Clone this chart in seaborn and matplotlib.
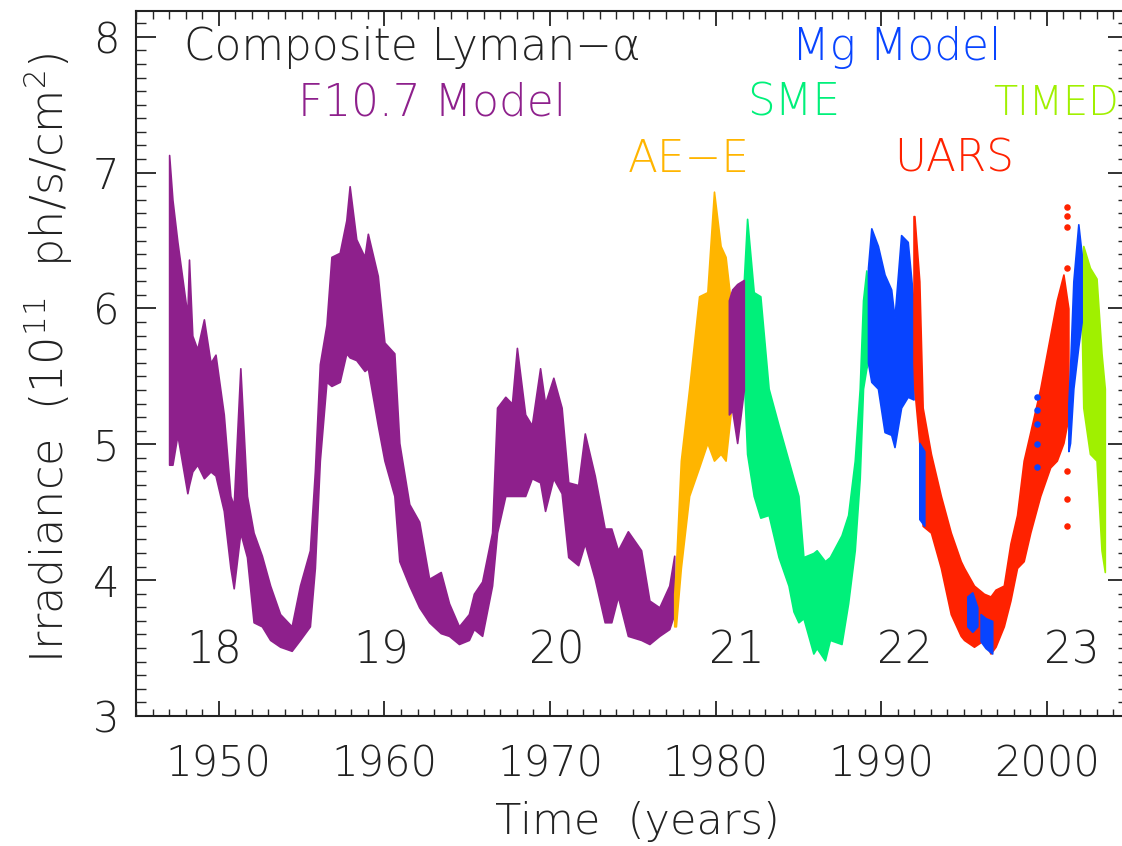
import numpy as np
import pandas as pd
import matplotlib
matplotlib.use("Agg")
import matplotlib.pyplot as plt
from matplotlib import font_manager
from matplotlib.ticker import MultipleLocator
import seaborn as sns

# ---------------- data ----------------
# F10.7 model, segment 1
f107_t = [1947.0, 1947.2, 1947.5, 1948.1, 1948.2, 1948.4, 1948.7, 1949.1, 1949.5, 1949.8,
          1950.3, 1950.7, 1950.9, 1951.3, 1951.7, 1952.1, 1952.6, 1953.1, 1953.7, 1954.4,
          1954.9, 1955.5, 1955.8, 1956.1, 1956.5, 1956.8, 1957.3, 1957.7, 1957.9, 1958.3,
          1958.8, 1959.0, 1959.6, 1960.0, 1960.6, 1960.9, 1961.5, 1962.1, 1962.7, 1963.4,
          1963.9, 1964.5, 1965.1, 1965.4, 1965.9, 1966.5, 1966.8, 1967.3, 1967.7, 1968.0,
          1968.5, 1968.9, 1969.4, 1969.7, 1970.2, 1970.7, 1971.1, 1971.7, 1972.1, 1972.7,
          1973.3, 1973.7, 1974.1, 1974.7, 1975.5, 1976.0, 1976.6, 1977.2, 1977.5]
f107_hi = [7.13, 6.80, 6.49, 5.95, 6.36, 5.80, 5.70, 5.92, 5.60, 5.66,
           5.22, 4.62, 4.55, 5.56, 4.62, 4.35, 4.18, 3.96, 3.75, 3.66,
           3.96, 4.22, 4.80, 5.59, 5.88, 6.38, 6.41, 6.65, 6.90, 6.51,
           6.38, 6.55, 6.24, 5.75, 5.67, 5.01, 4.56, 4.43, 4.01, 4.06,
           3.83, 3.66, 3.75, 3.90, 3.99, 4.35, 5.27, 5.35, 5.30, 5.71,
           5.22, 5.14, 5.56, 5.30, 5.49, 5.27, 4.72, 4.70, 5.08, 4.77,
           4.38, 4.38, 4.22, 4.36, 4.22, 3.85, 3.80, 3.96, 4.18]
f107_lo = [4.85, 4.85, 5.07, 4.64, 4.70, 4.80, 4.85, 4.75, 4.80, 4.77,
           4.51, 4.09, 3.94, 4.35, 4.17, 3.69, 3.66, 3.56, 3.51, 3.48,
           3.56, 3.66, 4.09, 4.88, 5.46, 5.43, 5.46, 5.67, 5.64, 5.62,
           5.54, 5.56, 5.14, 4.88, 4.62, 4.14, 3.96, 3.80, 3.69, 3.61,
           3.59, 3.53, 3.56, 3.64, 3.59, 3.96, 4.35, 4.62, 4.62, 4.62,
           4.62, 4.75, 4.72, 4.51, 4.75, 4.64, 4.17, 4.11, 4.27, 4.01,
           3.69, 3.69, 3.88, 3.59, 3.56, 3.53, 3.59, 3.64, 3.75]
# F10.7 model, segment 2
f107b_t = [1980.8, 1981.0, 1981.3, 1981.7]
f107b_hi = [6.06, 6.14, 6.18, 6.21]
f107b_lo = [5.22, 5.25, 5.01, 5.40]

# AE-E
aee_t = [1977.5, 1977.6, 1977.9, 1978.4, 1979.0, 1979.5, 1979.9, 1980.3, 1980.6, 1980.9]
aee_hi = [3.90, 4.09, 4.88, 5.41, 6.09, 6.12, 6.86, 6.46, 6.38, 6.06]
aee_lo = [3.66, 3.66, 4.09, 4.62, 4.83, 5.01, 4.88, 4.93, 4.88, 5.22]

# SME
sme_t = [1981.7, 1981.9, 1982.3, 1982.7, 1983.2, 1983.8, 1984.4, 1984.7, 1985.0, 1985.3,
         1985.9, 1986.1, 1986.6, 1986.9, 1987.6, 1988.0, 1988.4, 1988.7, 1988.9, 1989.1, 1989.2]
sme_hi = [6.20, 6.66, 6.12, 6.09, 5.41, 5.14, 4.88, 4.75, 4.62, 4.17,
          4.20, 4.22, 4.14, 4.17, 4.33, 4.48, 4.88, 5.41, 6.06, 6.28, 6.10]
sme_lo = [5.50, 4.93, 4.62, 4.46, 4.48, 4.17, 3.96, 3.77, 3.69, 3.72,
          3.46, 3.50, 3.41, 3.56, 3.53, 3.83, 4.22, 4.75, 5.41, 5.56, 5.60]

# Mg model segments
mg1_t = [1989.2, 1989.4, 1989.8, 1990.2, 1990.6, 1990.8, 1991.2, 1991.6, 1991.95]
mg1_hi = [6.30, 6.59, 6.46, 6.25, 6.14, 5.93, 6.54, 6.49, 6.04]
mg1_lo = [5.60, 5.46, 5.41, 5.09, 5.07, 4.98, 5.27, 5.35, 5.33]
mg2_t = [1992.3, 1992.6]
mg2_hi = [5.01, 4.95]
mg2_lo = [4.45, 4.40]
mg3_t = [1995.2, 1995.5, 1995.8]
mg3_hi = [3.88, 3.91, 3.80]
mg3_lo = [3.66, 3.62, 3.66]
mg4_t = [1996.0, 1996.3, 1996.7]
mg4_hi = [3.75, 3.72, 3.70]
mg4_lo = [3.55, 3.50, 3.46]
mg5_t = [2001.3, 2001.4, 2001.6, 2001.9, 2002.1]
mg5_hi = [5.30, 5.56, 6.20, 6.62, 6.40]
mg5_lo = [4.95, 5.01, 5.41, 5.72, 5.90]
mg_dot_t = [1999.4, 1999.4, 1999.4, 1999.4, 1999.4]
mg_dot_v = [5.35, 5.25, 5.15, 5.00, 4.83]

# UARS
uars_t = [1991.95, 1992.0, 1992.3, 1992.5, 1993.0, 1993.6, 1994.2, 1994.8, 1995.0, 1995.6,
          1996.2, 1996.6, 1996.9, 1997.4, 1997.8, 1998.2, 1998.6, 1999.0, 1999.6, 2000.2,
          2000.6, 2001.0, 2001.3]
uars_hi = [6.68, 6.68, 6.20, 5.27, 4.93, 4.62, 4.35, 4.14, 4.09, 3.96,
           3.90, 3.88, 3.93, 3.96, 4.27, 4.48, 4.88, 5.09, 5.41, 5.80,
           6.06, 6.25, 6.00]
uars_lo = [5.60, 5.41, 5.01, 4.40, 4.35, 4.09, 3.75, 3.59, 3.56, 3.51,
           3.56, 3.46, 3.51, 3.66, 3.85, 4.09, 4.14, 4.35, 4.62, 4.83,
           4.88, 5.01, 5.20]
uars_dot_t = [2001.2, 2001.2, 2001.2, 2001.2, 2001.2, 2001.2, 2001.2]
uars_dot_v = [6.75, 6.68, 6.60, 6.30, 4.80, 4.60, 4.40]

# TIMED
timed_t = [2002.1, 2002.2, 2002.6, 2003.0, 2003.3, 2003.5]
timed_hi = [6.30, 6.46, 6.30, 6.22, 5.67, 5.41]
timed_lo = [5.90, 5.27, 4.93, 4.88, 4.22, 4.06]

# labels
cycle_labels = ["18", "19", "20", "21", "22", "23"]
cycle_x = [1949.7, 1959.8, 1970.4, 1981.3, 1991.4, 2001.5]
x_ticks = [1950, 1960, 1970, 1980, 1990, 2000]
y_ticks = [3, 4, 5, 6, 7, 8]

# ---------------- style ----------------
C_F107 = "#8E208C"
C_AEE = "#FFB500"
C_SME = "#00F07A"
C_MG = "#0844FF"
C_UARS = "#FF2200"
C_TIMED = "#A0F000"
INK = "#222222"

sns.set_theme(style="ticks")

# pick a light-weight sans face if one is installed (DejaVu metrics preferred)
_have = [(f.name, f.weight) for f in font_manager.fontManager.ttflist]
FAM, WGT, SCALE = "DejaVu Sans", "normal", 1.0
_cands = [("DejaVu Sans", 250, 1.0), ("DejaVu Sans ExtraLight", 400, 1.0),
          ("DejaVu Sans Light", 400, 1.0), ("Open Sans", 350, 1.12),
          ("Noto Sans", 350, 1.10), ("Lato", 350, 1.15)]
for fam, wmax, sc in _cands:
    ws = [w for n, w in _have if n == fam and isinstance(w, (int, float)) and w <= wmax]
    if ws:
        FAM, WGT, SCALE = fam, max(ws), sc
        break

plt.rcParams["font.family"] = [FAM, "DejaVu Sans"]
plt.rcParams["font.weight"] = WGT
plt.rcParams["axes.labelweight"] = WGT
plt.rcParams["mathtext.default"] = "regular"

fig = plt.figure(figsize=(11.22, 8.46), dpi=100)
ax = fig.add_axes([136 / 1122, 1 - 716 / 846, (1128 - 136) / 1122, (716 - 11) / 846])


def band(t, lo, hi, color):
    df = pd.DataFrame({"t": list(t) + list(t), "v": list(lo) + list(hi)})
    sns.lineplot(data=df, x="t", y="v", estimator="mean",
                 errorbar=lambda v: (v.min(), v.max()),
                 color=color, linewidth=0, ax=ax,
                 err_kws={"alpha": 1, "linewidth": 1.2, "edgecolor": color})


band(f107_t, f107_lo, f107_hi, C_F107)
band(aee_t, aee_lo, aee_hi, C_AEE)
band(sme_t, sme_lo, sme_hi, C_SME)
band(f107b_t, f107b_lo, f107b_hi, C_F107)
band(mg1_t, mg1_lo, mg1_hi, C_MG)
band(uars_t, uars_lo, uars_hi, C_UARS)
band(mg2_t, mg2_lo, mg2_hi, C_MG)
band(mg3_t, mg3_lo, mg3_hi, C_MG)
band(mg4_t, mg4_lo, mg4_hi, C_MG)
band(timed_t, timed_lo, timed_hi, C_TIMED)
band(mg5_t, mg5_lo, mg5_hi, C_MG)
sns.scatterplot(x=mg_dot_t, y=mg_dot_v, color=C_MG, s=22, linewidth=0, ax=ax)
sns.scatterplot(x=uars_dot_t, y=uars_dot_v, color=C_UARS, s=22, linewidth=0, ax=ax)

ax.set_xlim(1945.0, 2004.9)
ax.set_ylim(3.0, 8.19)
ax.set_xticks(x_ticks)
ax.set_yticks(y_ticks)
ax.xaxis.set_minor_locator(MultipleLocator(1))
ax.yaxis.set_minor_locator(MultipleLocator(0.1))
tfs = 30 * SCALE
ax.tick_params(axis="x", which="major", direction="in", length=10.8, width=1.3,
               top=True, bottom=True, pad=20, labelsize=tfs, colors=INK)
ax.tick_params(axis="x", which="minor", direction="in", length=5.4, width=1.0,
               top=True, bottom=True)
ax.tick_params(axis="y", which="major", direction="in", length=14.4, width=1.3,
               left=True, right=True, pad=12, labelsize=tfs, colors=INK)
ax.tick_params(axis="y", which="minor", direction="in", length=7.2, width=1.0,
               left=True, right=True)
for s in ax.spines.values():
    s.set_linewidth(1.5)
    s.set_color(INK)

ax.set_xlabel("Time  (years)", fontsize=31 * SCALE, color=INK, fontweight=WGT)
ax.set_ylabel(r"Irradiance  (10$^{11}$  ph/s/cm$^{2}$)", fontsize=32 * SCALE, color=INK,
              fontweight=WGT)
ax.xaxis.set_label_coords(0.505, -0.150)
ax.xaxis.label.set_verticalalignment("center")
ax.yaxis.set_label_coords(-0.089, 0.508)
ax.yaxis.label.set_verticalalignment("center")

fs = 31.5 * SCALE
ax.text(1947.9, 7.92, "Composite Lyman\u2212\u03b1", color=INK, fontsize=fs, va="center", ha="left")
ax.text(1954.8, 7.51, "F10.7 Model", color=C_F107, fontsize=fs, va="center", ha="left")
ax.text(1984.6, 7.92, "Mg Model", color=C_MG, fontsize=fs, va="center", ha="left")
ax.text(1981.9, 7.51, "SME", color=C_SME, fontsize=fs, va="center", ha="left")
ax.text(2004.33, 7.51, "TIMED", color=C_TIMED, fontsize=28.5 * SCALE, va="center", ha="right")
ax.text(1974.7, 7.10, "AE\u2212E", color=C_AEE, fontsize=fs, va="center", ha="left")
ax.text(1990.8, 7.10, "UARS", color=C_UARS, fontsize=fs, va="center", ha="left")
for lab, xc in zip(cycle_labels, cycle_x):
    ax.text(xc, 3.48, lab, color=INK, fontsize=fs, va="center", ha="center")

fig.savefig("out.png", dpi=100)
